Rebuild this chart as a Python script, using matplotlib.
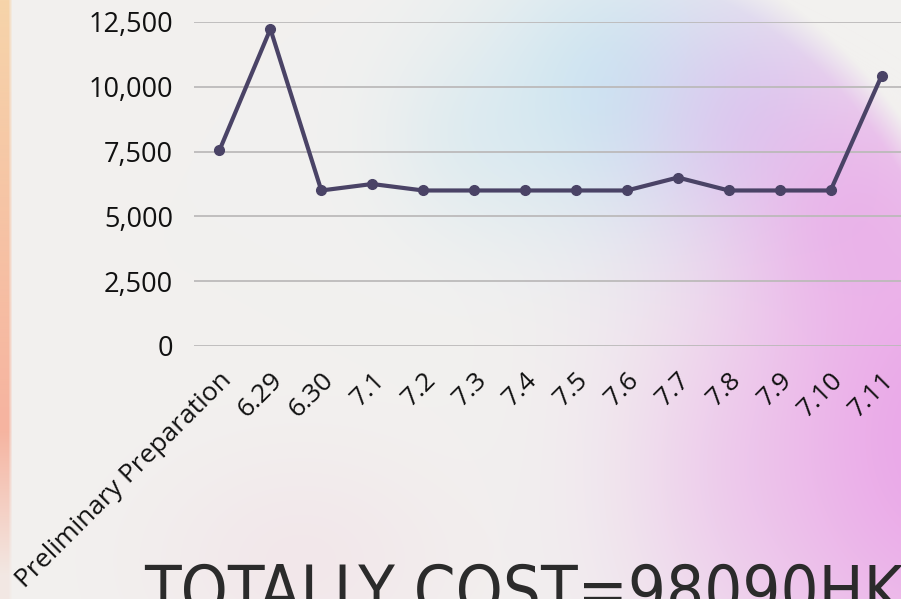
import matplotlib
matplotlib.use("Agg")
import matplotlib.pyplot as plt
import numpy as np

# data
days = ['Preliminary Preparation', '6.29', '6.30', '7.1', '7.2', '7.3', '7.4',
        '7.5', '7.6', '7.7', '7.8', '7.9', '7.10', '7.11']
cost = [7550, 12230, 6000, 6250, 6000, 6000, 6000,
        6000, 6000, 6500, 6000, 6000, 6000, 10420]
yticks = [0, 2500, 5000, 7500, 10000, 12500]
title = 'TOTALLY COST=98090HKD'

W, H = 901, 599
line_color = '#4a4366'


def background():
    # soft pastel backdrop (decoration only)
    yy, xx = np.mgrid[0:H, 0:W].astype(float)
    img = np.ones((H, W, 3)) * np.array([242, 241, 239]) / 255

    def mix(img, cx, cy, rx, ry, color, strength, mask=None):
        d = ((xx - cx) / rx) ** 2 + ((yy - cy) / ry) ** 2
        w = strength * np.exp(-d)
        if mask is not None:
            w = w * mask
        w = w[..., None]
        return img * (1 - w) + np.array(color) / 255 * w

    # faint pink haze bottom left
    img = mix(img, 300, 560, 150, 110, (244, 222, 230), 0.5)

    # big disk that holds the colour, cut off towards the top right
    dist = np.hypot(xx - 560, (yy - 440) * 0.858)
    mask = np.clip((440 - dist) / 30, 0, 1)

    img = mix(img, 470, 140, 90, 90, (214, 233, 240), 0.45, mask)
    img = mix(img, 620, 90, 140, 140, (198, 229, 242), 0.85, mask)
    img = mix(img, 750, 120, 110, 120, (214, 200, 240), 0.75, mask)
    img = mix(img, 850, 210, 100, 120, (232, 180, 234), 0.7, mask)
    img = mix(img, 740, 480, 120, 160, (236, 205, 236), 0.45, mask)
    img = mix(img, 940, 440, 220, 320, (234, 164, 232), 0.95, mask)

    # warm strip at the left edge
    strip = np.clip((12 - xx) / 4, 0, 1)
    top = np.array([246, 212, 170]) / 255
    mid = np.array([246, 180, 160]) / 255
    t = np.clip(yy / 420, 0, 1)[..., None]
    warm = top * (1 - t) + mid * t
    fade = np.clip(1 - (yy - 430) / 170, 0.15, 1)
    sw = (strip * fade)[..., None]
    img = img * (1 - sw) + warm * sw
    return np.clip(img, 0, 1)


fig = plt.figure(figsize=(W / 100, H / 100), dpi=100)
bg = fig.add_axes([0, 0, 1, 1])
bg.imshow(background(), aspect='auto', extent=[0, 1, 0, 1])
bg.axis('off')

left, bottom = 194 / W, (H - 346) / H
ax = fig.add_axes([left, bottom, 713 / W, 324 / H])
ax.patch.set_alpha(0)
x = np.arange(len(days))
ax.plot(x, cost, color=line_color, lw=3, marker='o', ms=7, clip_on=False,
        solid_capstyle='round', zorder=3)
ax.set_xlim(-0.5, len(days) - 0.5)
ax.set_ylim(0, 12500)
ax.set_yticks(yticks)
ax.set_yticklabels([f'{v:,}' for v in yticks])
ax.yaxis.grid(True, color='#bcbaba', lw=1.3)
ax.set_axisbelow(True)
for s in ax.spines.values():
    s.set_visible(False)
ax.tick_params(length=0, labelsize=19.5, labelcolor='#111111')
ax.tick_params(axis='y', pad=15)
ax.tick_params(axis='x', pad=15.5, labelsize=19)
ax.set_xticks(x)
ax.set_xticklabels(days, rotation=45, ha='right', rotation_mode='anchor')
for lab in ax.get_xticklabels() + ax.get_yticklabels():
    lab.set_family(['Open Sans', 'DejaVu Sans'])

fig.text(144 / W, 1 - 562 / H, title, ha='left', va='top', fontsize=48,
         color='#2b2b2b', family=['DejaVu Sans'], fontstretch='condensed')

fig.savefig('out.png', dpi=100)
